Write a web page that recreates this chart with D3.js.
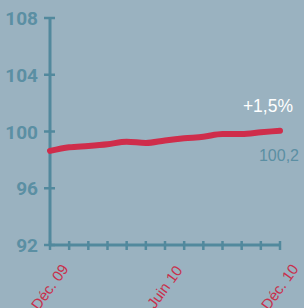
<!DOCTYPE html>
<html lang="fr">
<head>
<meta charset="UTF-8">
<script src="https://d3js.org/d3.v7.min.js"></script>
<style>
  body { margin: 0; padding: 0; background: #9ab2c0; }
  svg { display: block; }
  .ylab { font-family: Roboto, sans-serif; font-weight: 700; font-size: 19px; fill: #5b8fa3; text-anchor: end; }
  .xlab { font-family: "Liberation Sans", Arial, sans-serif; font-size: 15px; fill: #c8304c; text-anchor: middle; }
</style>
</head>
<body>
<svg width="304" height="308"></svg>
<script>
// monthly index, Dec 09 -> Dec 10
const months = d3.range(13);
const values = [98.63, 98.89, 98.98, 99.10, 99.28, 99.19, 99.37, 99.52, 99.63, 99.82, 99.82, 99.94, 100.06];
const yTicks = [92, 96, 100, 104, 108];
const xLabels = ["Déc. 09", "Juin 10", "Déc. 10"];
const xLabelMonths = [0, 6, 12];
const changeText = "+1,5%";
const lastText = "100,2";

const svg = d3.select("svg");
const axisColor = "#52899d";

const x = d3.scaleLinear().domain([0, 12]).range([50, 280]);
const y = d3.scaleLinear().domain([92, 108]).range([245, 18]);

// y axis
svg.append("line")
  .attr("x1", x(0)).attr("x2", x(0))
  .attr("y1", y(108)).attr("y2", y(92))
  .attr("stroke", axisColor).attr("stroke-width", 3);

svg.selectAll(".ytick")
  .data(yTicks)
  .enter()
  .append("line")
  .attr("x1", x(0) - 6).attr("x2", x(0) + 5)
  .attr("y1", d => y(d)).attr("y2", d => y(d))
  .attr("stroke", axisColor).attr("stroke-width", 2.5);

svg.selectAll(".ylab")
  .data(yTicks)
  .enter()
  .append("text")
  .attr("class", "ylab")
  .attr("x", 38)
  .attr("y", d => y(d) + 7)
  .text(d => d);

// x axis
svg.append("line")
  .attr("x1", x(0)).attr("x2", x(12))
  .attr("y1", y(92)).attr("y2", y(92))
  .attr("stroke", axisColor).attr("stroke-width", 3);

svg.selectAll(".xtick")
  .data(months)
  .enter()
  .append("line")
  .attr("x1", d => x(d)).attr("x2", d => x(d))
  .attr("y1", y(92) - 4).attr("y2", y(92) + 5)
  .attr("stroke", axisColor).attr("stroke-width", 2.5);

// labels run off the bottom edge, as in the original
svg.selectAll(".xlab")
  .data(xLabels)
  .enter()
  .append("text")
  .attr("class", "xlab")
  .attr("transform", (d, i) => "translate(" + (x(xLabelMonths[i]) + 4) + ",290) rotate(-54)")
  .text(d => d);

// line
const line = d3.line()
  .x((d, i) => x(months[i]))
  .y(d => y(d))
  .curve(d3.curveMonotoneX);

svg.append("path")
  .datum(values)
  .attr("d", line)
  .attr("fill", "none")
  .attr("stroke", "#cf2d4b")
  .attr("stroke-width", 6)
  .attr("stroke-linecap", "round")
  .attr("stroke-linejoin", "round");

// annotations
svg.append("text")
  .attr("x", 293).attr("y", 112)
  .attr("text-anchor", "end")
  .attr("font-family", "Liberation Sans, Arial, sans-serif")
  .attr("font-size", 17.5)
  .attr("fill", "white")
  .text(changeText);

svg.append("text")
  .attr("x", 299).attr("y", 161)
  .attr("text-anchor", "end")
  .attr("font-family", "Liberation Sans, Arial, sans-serif")
  .attr("font-size", 16)
  .attr("fill", "#5b8fa3")
  .text(lastText);
</script>
</body>
</html>
